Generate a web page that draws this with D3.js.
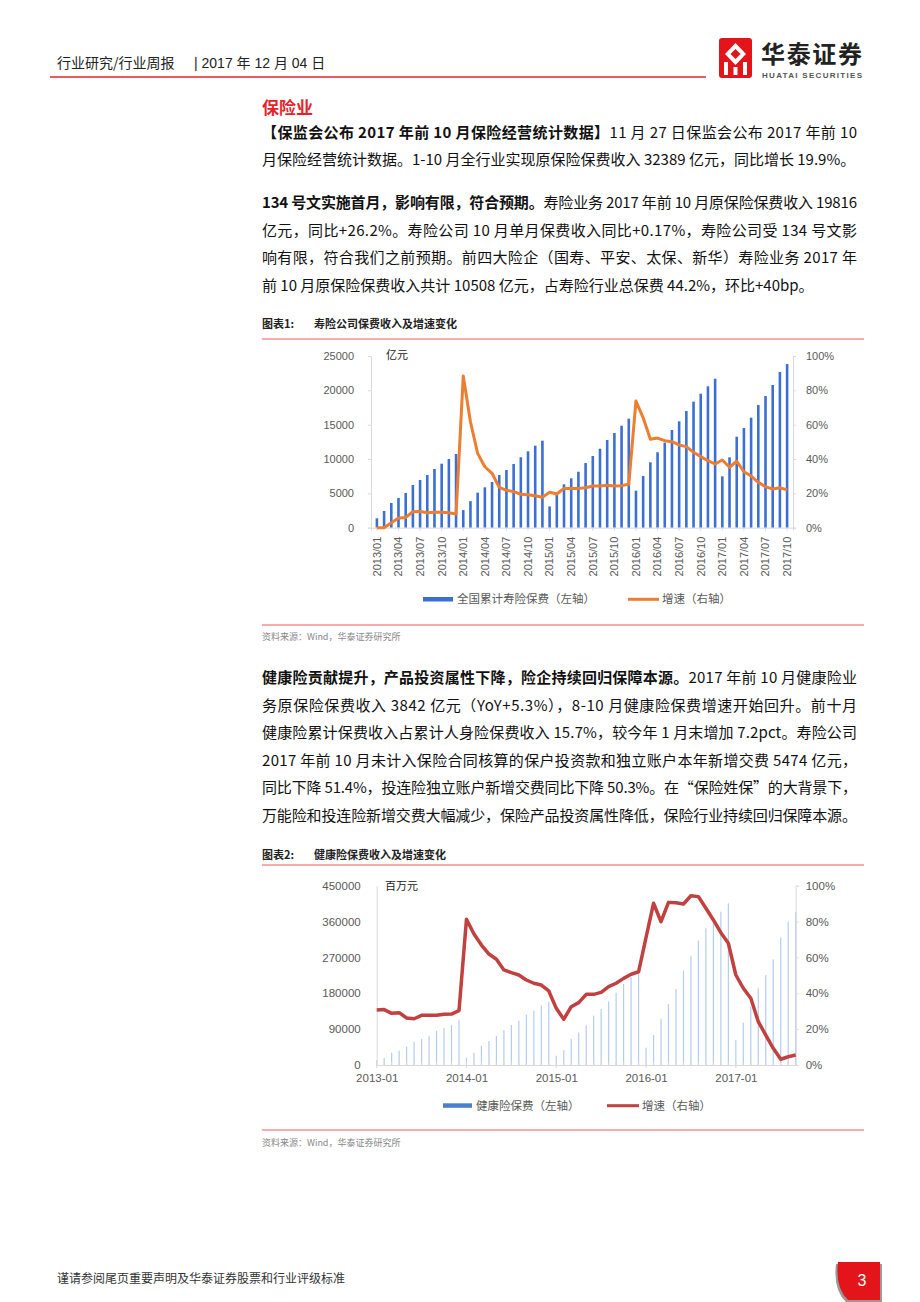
<!DOCTYPE html>
<html>
<head>
<meta charset="utf-8">
<script src="https://cdn.jsdelivr.net/npm/d3@7"></script>
<style>
  body { margin: 0; background: #fff; }
  svg text { font-family: "Liberation Sans", Arial, "Noto Sans CJK SC", sans-serif; }
  .cjk { font-family: "Noto Sans CJK SC", "Liberation Sans", sans-serif; }
</style>
</head>
<body>
<svg id="page" width="920" height="1302"></svg>
<script>
// ---- chart 1: life insurance premium (亿元) and growth (%) ----
var lifeStart = new Date(2013, 0, 1)
var lifeMonths = d3.timeMonths(lifeStart, new Date(2017, 10, 1))
var lifePremium = [
  1370, 2430, 3600, 4330, 5050, 6220, 6950, 7670, 8550, 9320, 10000, 10730,
  2560, 3870, 5100, 5880, 6650, 7670, 8400, 9280, 10250, 11120, 11940, 12670,
  3100, 4750, 6320, 7190, 8150, 9420, 10440, 11500, 12770, 13790, 14850, 15870,
  5390, 7530, 9520, 10980, 12380, 14220, 15490, 16990, 18350, 19510, 20590, 21690,
  7480, 10250, 13250, 14520, 16020, 17860, 19170, 20780, 22670, 23830
]
var lifeGrowth = [
  0, 0, 2.9, 5.6, 6.0, 9.3, 9.5, 8.7, 9.0, 9.0, 8.7, 8.0,
  88.3, 61.7, 43.3, 35.5, 31.7, 23.5, 21.8, 21.0, 19.5, 19.2, 18.6, 17.7,
  20.6, 19.6, 22.9, 22.9, 22.9, 23.3, 24.3, 24.3, 24.7, 24.3, 24.5, 25.3,
  73.8, 64.0, 51.5, 52.2, 50.7, 50.1, 48.2, 47.2, 43.9, 41.4, 39.0, 37.1,
  39.4, 35.2, 38.7, 32.6, 30.1, 26.4, 23.9, 22.5, 23.3, 22.0
]
var lifeLeftTicks = [0, 5000, 10000, 15000, 20000, 25000]
var pctTicks = [0, 20, 40, 60, 80, 100]

// ---- chart 2: health insurance premium (百万元) and growth (%) ----
var healthMonths = d3.timeMonths(lifeStart, new Date(2017, 9, 1))
var healthPremium = [
  12000, 17600, 30900, 35900, 46000, 57700, 65300, 72800, 85300, 92900, 100400, 112900,
  17600, 30900, 48500, 60200, 72800, 87800, 100400, 111300, 126300, 136400, 148900, 158900,
  23400, 37600, 65300, 81100, 100400, 123800, 140500, 159800, 181500, 203300, 221700, 244300,
  43500, 75300, 116300, 153100, 190700, 236800, 273600, 312100, 343000, 363900, 384800, 405700,
  62700, 106200, 146400, 192400, 225900, 265200, 320400, 359700, 384200
]
var healthGrowth = [
  30.7, 30.9, 28.8, 29.2, 26.2, 25.8, 27.7, 27.7, 27.7, 28.3, 28.4, 30.3,
  81.3, 73.1, 66.9, 61.9, 59.0, 53.0, 51.5, 50.2, 47.4, 45.6, 44.6, 41.3,
  31.6, 25.5, 32.5, 34.8, 39.4, 39.4, 40.5, 43.7, 45.6, 48.3, 50.6, 52.0,
  71.2, 90.2, 79.9, 90.7, 90.5, 89.8, 94.4, 93.9, 87.4, 80.9, 73.8, 67.9,
  50.2, 42.8, 37.2, 24.2, 16.7, 9.3, 3.2, 4.6, 5.6
]
var healthLeftTicks = [0, 90000, 180000, 270000, 360000, 450000]

var svg = d3.select("#page")
var red = "#e8222b", axisGray = "#d9d9d9", labelGray = "#595959"

// ---------- page header ----------
svg.append("text").attr("class", "cjk").attr("x", 57).attr("y", 68)
  .attr("font-size", 14).attr("fill", "#222")
  .text("行业研究/行业周报")
svg.append("text").attr("x", 194).attr("y", 68).attr("font-size", 14).attr("fill", "#222")
  .text("| 2017 年 12 月 04 日")
svg.append("line").attr("x1", 50).attr("x2", 706).attr("y1", 77).attr("y2", 77)
  .attr("stroke", red).attr("stroke-width", 1.5)

// logo
var logo = svg.append("g").attr("transform", "translate(719,38)")
logo.append("rect").attr("width", 33).attr("height", 40).attr("rx", 3).attr("fill", "#e3151b")
logo.append("path").attr("d", "M16.5,5 L27,16 L16.5,27 L6,16 Z").attr("fill", "#fff")
logo.append("path").attr("d", "M16.5,11 L21.5,16 L16.5,21 L11.5,16 Z").attr("fill", "#e3151b")
logo.append("rect").attr("x", 5).attr("y", 24).attr("width", 4).attr("height", 13).attr("fill", "#fff")
logo.append("rect").attr("x", 24).attr("y", 24).attr("width", 4).attr("height", 13).attr("fill", "#fff")
logo.append("rect").attr("x", 14.5).attr("y", 29).attr("width", 4).attr("height", 8).attr("fill", "#fff")
svg.append("text").attr("class", "cjk").attr("x", 761).attr("y", 63)
  .attr("font-size", 24).attr("font-weight", "bold").attr("fill", "#222")
  .attr("textLength", 101).text("华泰证券")
svg.append("text").attr("x", 762).attr("y", 78).attr("font-size", 8).attr("font-weight", "bold")
  .attr("fill", "#555").attr("textLength", 100).text("HUATAI SECURITIES")

// ---------- body text ----------
svg.append("text").attr("class", "cjk").attr("x", 262).attr("y", 114)
  .attr("font-size", 17).attr("font-weight", "bold").attr("fill", red).text("保险业")

function bodyLine(y, parts, justify) {
  var t = svg.append("text").attr("class", "cjk").attr("x", 262).attr("y", y + 5)
    .attr("font-size", 15).attr("fill", "#111")
  parts.forEach(function (p) {
    t.append("tspan").attr("font-weight", p[1] ? "bold" : "normal").text(p[0])
  })
  if (justify) t.attr("textLength", 595).attr("lengthAdjust", "spacing")
}
bodyLine(133, [["【保监会公布 2017 年前 10 月保险经营统计数据】", 1], ["11 月 27 日保监会公布 2017 年前 10", 0]], true)
bodyLine(160, [["月保险经营统计数据。1-10 月全行业实现原保险保费收入 32389 亿元，同比增长 19.9%。", 0]], false)
bodyLine(203, [["134 号文实施首月，影响有限，符合预期。", 1], ["寿险业务 2017 年前 10 月原保险保费收入 19816", 0]], true)
bodyLine(231, [["亿元，同比+26.2%。寿险公司 10 月单月保费收入同比+0.17%，寿险公司受 134 号文影", 0]], true)
bodyLine(258, [["响有限，符合我们之前预期。前四大险企（国寿、平安、太保、新华）寿险业务 2017 年", 0]], true)
bodyLine(286, [["前 10 月原保险保费收入共计 10508 亿元，占寿险行业总保费 44.2%，环比+40bp。", 0]], false)

bodyLine(678, [["健康险贡献提升，产品投资属性下降，险企持续回归保障本源。", 1], ["2017 年前 10 月健康险业", 0]], true)
bodyLine(706, [["务原保险保费收入 3842 亿元（YoY+5.3%），8-10 月健康险保费增速开始回升。前十月", 0]], true)
bodyLine(733, [["健康险累计保费收入占累计人身险保费收入 15.7%，较今年 1 月末增加 7.2pct。寿险公司", 0]], true)
bodyLine(761, [["2017 年前 10 月未计入保险合同核算的保户投资款和独立账户本年新增交费 5474 亿元，", 0]], true)
bodyLine(788, [["同比下降 51.4%，投连险独立账户新增交费同比下降 50.3%。在“保险姓保”的大背景下，", 0]], true)
bodyLine(816, [["万能险和投连险新增交费大幅减少，保险产品投资属性降低，保险行业持续回归保障本源。", 0]], true)

// chart frames (title, red rules, source)
function frame(titleY, topRule, bottomRule, srcY, num, title) {
  svg.append("text").attr("class", "cjk").attr("x", 262).attr("y", titleY + 4)
    .attr("font-size", 11).attr("font-weight", "bold").attr("fill", "#222")
    .text("图表" + num + ":")
  svg.append("text").attr("class", "cjk").attr("x", 314).attr("y", titleY + 4)
    .attr("font-size", 11).attr("font-weight", "bold").attr("fill", "#222").text(title)
  ;[topRule, bottomRule].forEach(function (y) {
    svg.append("line").attr("x1", 262).attr("x2", 864).attr("y1", y).attr("y2", y)
      .attr("stroke", "#f05a5a").attr("stroke-width", 1)
  })
  svg.append("text").attr("class", "cjk").attr("x", 262).attr("y", srcY + 3)
    .attr("font-size", 9).attr("fill", "#888").text("资料来源：Wind，华泰证券研究所")
}
frame(324, 339, 625, 637, 1, "寿险公司保费收入及增速变化")
frame(855, 865, 1130, 1143, 2, "健康险保费收入及增速变化")

// ---------- chart 1 ----------
var c1 = svg.append("g")
var x1 = d3.scaleBand().domain(lifeMonths).range([371, 793]).padding(0.64)
var y1L = d3.scaleLinear().domain([0, 25000]).range([527.7, 356])
var y1R = d3.scaleLinear().domain([0, 100]).range([527.7, 356])
var fmtSlash = d3.timeFormat("%Y/%m")

c1.selectAll("rect.bar").data(lifePremium).join("rect").attr("class", "bar")
  .attr("x", function (d, i) { return x1(lifeMonths[i]) })
  .attr("width", x1.bandwidth())
  .attr("y", function (d) { return y1L(d) })
  .attr("height", function (d) { return y1L(0) - y1L(d) })
  .attr("fill", "#3b6fd4")

var axL1 = c1.append("g").attr("transform", "translate(371,0)")
  .call(d3.axisLeft(y1L).tickValues(lifeLeftTicks).tickSize(3).tickPadding(14).tickFormat(d3.format("d")))
var axR1 = c1.append("g").attr("transform", "translate(793,0)")
  .call(d3.axisRight(y1R).tickValues(pctTicks).tickSize(3).tickPadding(10).tickFormat(function (d) { return d + "%" }))
var axB1 = c1.append("g").attr("transform", "translate(0,527.7)")
  .call(d3.axisBottom(x1).tickValues(lifeMonths.filter(function (d, i) { return i % 3 === 0 }))
    .tickSize(3).tickFormat(fmtSlash))
axB1.selectAll("text").attr("transform", "rotate(-90)").attr("text-anchor", "end")
  .attr("x", -9).attr("y", 0).attr("dy", "0.35em")
;[axL1, axR1, axB1].forEach(function (a) {
  a.select(".domain").attr("stroke", axisGray)
  a.selectAll(".tick line").attr("stroke", axisGray)
  a.selectAll("text").attr("font-size", 11).attr("fill", labelGray)
    .attr("font-family", "Liberation Sans, Arial, sans-serif")
})

var line1 = d3.line()
  .x(function (d, i) { return x1(lifeMonths[i]) + x1.bandwidth() / 2 })
  .y(function (d) { return y1R(d) })
c1.append("path").datum(lifeGrowth).attr("d", line1)
  .attr("fill", "none").attr("stroke", "#ed7d31").attr("stroke-width", 3).attr("stroke-linejoin", "round")

c1.append("text").attr("class", "cjk").attr("x", 386).attr("y", 359).attr("font-size", 11)
  .attr("fill", "#222").text("亿元")

// legend 1
c1.append("rect").attr("x", 423).attr("y", 597).attr("width", 30).attr("height", 4.5).attr("fill", "#3b6fd4")
c1.append("text").attr("class", "cjk").attr("x", 457).attr("y", 603).attr("font-size", 11.5)
  .attr("fill", labelGray).text("全国累计寿险保费（左轴）")
c1.append("line").attr("x1", 628).attr("x2", 659).attr("y1", 599.3).attr("y2", 599.3)
  .attr("stroke", "#ed7d31").attr("stroke-width", 3)
c1.append("text").attr("class", "cjk").attr("x", 662).attr("y", 603).attr("font-size", 11.5)
  .attr("fill", labelGray).text("增速（右轴）")

// ---------- chart 2 ----------
var c2 = svg.append("g")
var x2 = d3.scaleLinear().domain([0, healthMonths.length - 1]).range([376.7, 795.7])
var y2L = d3.scaleLinear().domain([0, 450000]).range([1065, 885.7])
var y2R = d3.scaleLinear().domain([0, 100]).range([1065, 885.7])

c2.selectAll("rect.bar").data(healthPremium).join("rect").attr("class", "bar")
  .attr("x", function (d, i) { return x2(i) - 0.6 })
  .attr("width", 1.2)
  .attr("y", function (d) { return y2L(d) })
  .attr("height", function (d) { return y2L(0) - y2L(d) })
  .attr("fill", "#b3cdf0")

var axL2 = c2.append("g").attr("transform", "translate(376.7,0)")
  .call(d3.axisLeft(y2L).tickValues(healthLeftTicks).tickSize(0).tickPadding(16).tickFormat(d3.format("d")))
var axR2 = c2.append("g").attr("transform", "translate(795.7,0)")
  .call(d3.axisRight(y2R).tickValues(pctTicks).tickSize(3).tickPadding(7).tickFormat(function (d) { return d + "%" }))
var axB2 = c2.append("g").attr("transform", "translate(0,1065)")
  .call(d3.axisBottom(x2).tickValues(d3.range(0, healthMonths.length, 12)).tickSize(0).tickPadding(9)
    .tickFormat(function (i) { return d3.timeFormat("%Y-%m")(healthMonths[i]) }))
// small monthly ticks
c2.selectAll("line.mtick").data(healthMonths).join("line").attr("class", "mtick")
  .attr("x1", function (d, i) { return x2(i) }).attr("x2", function (d, i) { return x2(i) })
  .attr("y1", 1062).attr("y2", function (d, i) { return i % 12 === 0 ? 1068 : 1065 })
  .attr("stroke", axisGray)
;[axL2, axR2, axB2].forEach(function (a) {
  a.select(".domain").attr("stroke", axisGray)
  a.selectAll(".tick line").attr("stroke", axisGray)
  a.selectAll("text").attr("font-size", 11.5).attr("fill", labelGray)
    .attr("font-family", "Liberation Sans, Arial, sans-serif")
})

var line2 = d3.line()
  .x(function (d, i) { return x2(i) })
  .y(function (d) { return y2R(d) })
c2.append("path").datum(healthGrowth).attr("d", line2)
  .attr("fill", "none").attr("stroke", "#c0413f").attr("stroke-width", 3.5).attr("stroke-linejoin", "round")

c2.append("text").attr("class", "cjk").attr("x", 385).attr("y", 890).attr("font-size", 11)
  .attr("fill", "#222").text("百万元")

// legend 2
c2.append("rect").attr("x", 443).attr("y", 1103.3).attr("width", 29).attr("height", 4.5).attr("fill", "#4a7fd0")
c2.append("text").attr("class", "cjk").attr("x", 476).attr("y", 1109.5).attr("font-size", 11.5)
  .attr("fill", labelGray).text("健康险保费（左轴）")
c2.append("line").attr("x1", 607).attr("x2", 639).attr("y1", 1105.7).attr("y2", 1105.7)
  .attr("stroke", "#c0413f").attr("stroke-width", 3)
c2.append("text").attr("class", "cjk").attr("x", 642).attr("y", 1109.5).attr("font-size", 11.5)
  .attr("fill", labelGray).text("增速（右轴）")

// ---------- footer ----------
svg.append("text").attr("class", "cjk").attr("x", 57).attr("y", 1283).attr("font-size", 12)
  .attr("fill", "#333").text("谨请参阅尾页重要声明及华泰证券股票和行业评级标准")
svg.append("path").attr("d", "M836,1264 L882,1264 L882,1302 L846,1302 Q833,1290 836,1264 Z")
  .attr("fill", "#999")
svg.append("path").attr("d", "M838,1262 L880,1262 L880,1300 L848,1300 Q835,1288 838,1262 Z")
  .attr("fill", "#e3151b")
svg.append("text").attr("x", 862).attr("y", 1286).attr("font-size", 16).attr("fill", "#fff")
  .attr("text-anchor", "middle").text("3")
</script>
</body>
</html>
